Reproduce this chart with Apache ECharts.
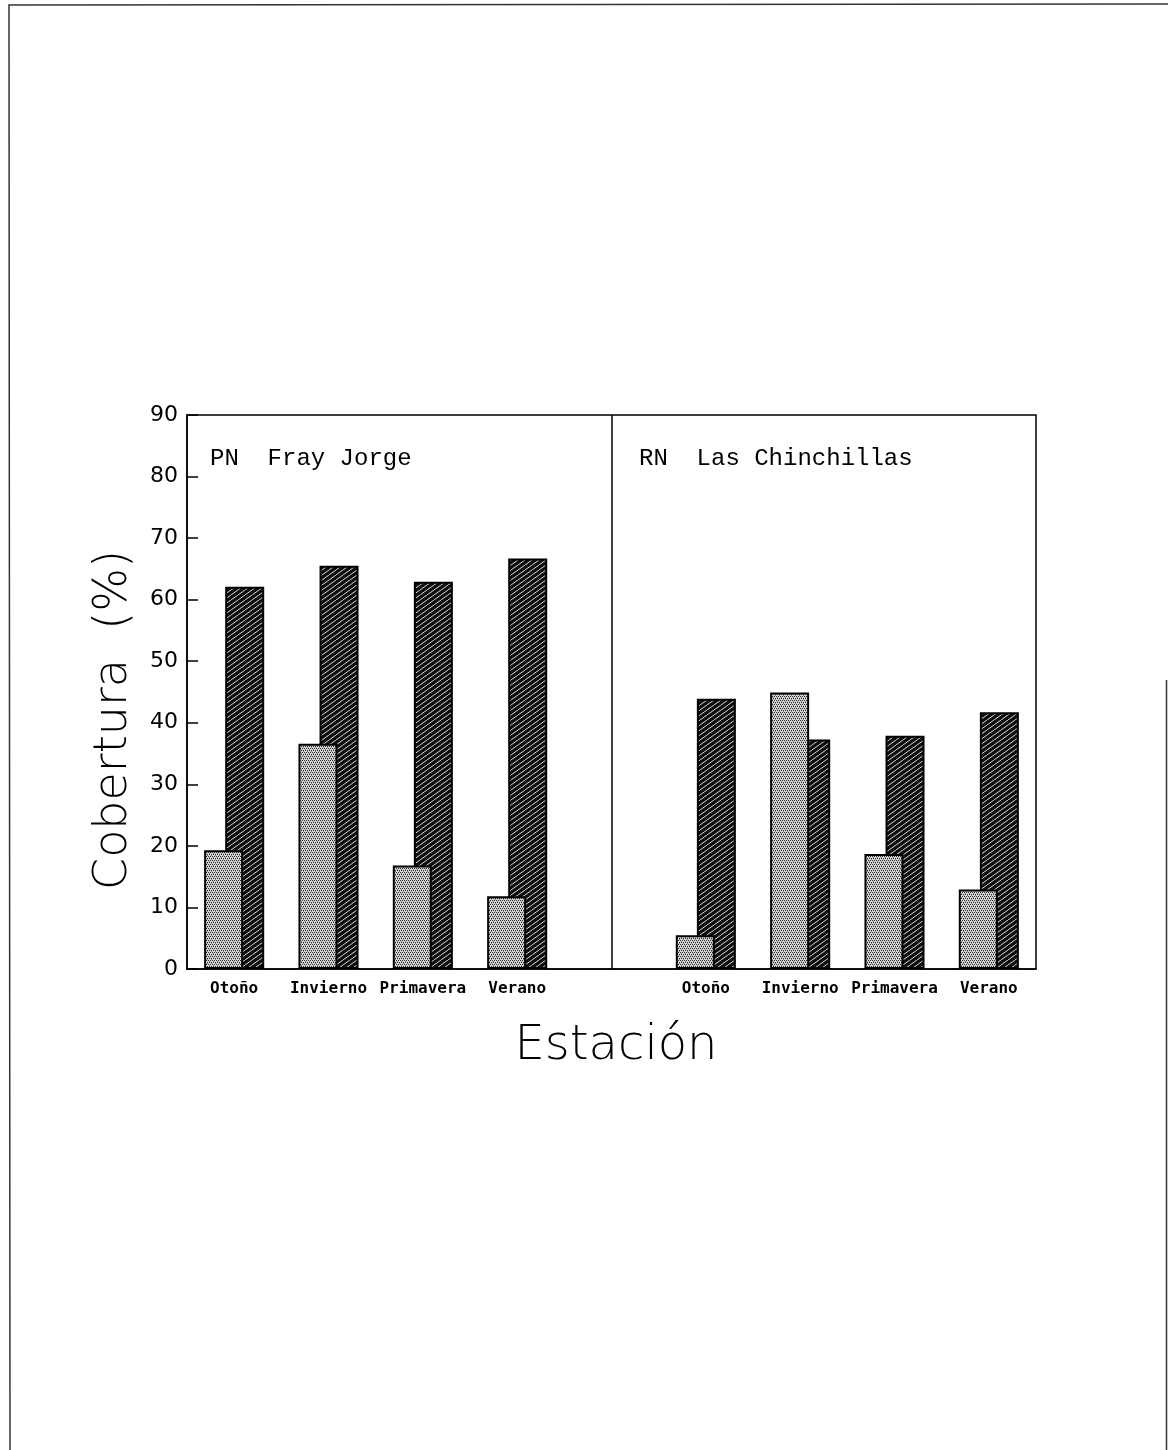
<!DOCTYPE html>
<html><head><meta charset="utf-8">
<script src="https://cdn.jsdelivr.net/npm/echarts@6/dist/echarts.min.js"></script>
<style>html,body{margin:0;padding:0;background:#fff}#c{width:1168px;height:1450px}</style>
</head><body><div id="c"></div>
<script>
// ---- data ----
const seasons = ['Otoño', 'Invierno', 'Primavera', 'Verano'];
const sites = ['PN  Fray Jorge', 'RN  Las Chinchillas'];
const yTickValues = [0, 10, 20, 30, 40, 50, 60, 70, 80, 90];
const frayDotted  = [19.3, 36.6, 16.8, 11.8];
const frayHatched = [62.1, 65.5, 62.9, 66.7];
const chinDotted  = [5.5, 44.9, 18.7, 12.9];
const chinHatched = [43.9, 37.3, 37.9, 41.7];
const yTitle = 'Cobertura  (%)';
const xTitle = 'Estación';

// ---- build ----
const axisData = seasons.map(s => 'A|' + s).concat(['gap']).concat(seasons.map(s => 'B|' + s));
const dottedData = frayDotted.concat(['-']).concat(chinDotted);
const hatchedData = frayHatched.concat(['-']).concat(chinHatched);

function dotTile() {
  const c = document.createElement('canvas'); c.width = 4; c.height = 4;
  const g = c.getContext('2d');
  g.fillStyle = '#d6d6d6'; g.fillRect(0, 0, 4, 4);
  g.fillStyle = '#2e2e2e';
  [[0,0],[2,0],[1,2],[3,2]].forEach(p => g.fillRect(p[0], p[1], 1, 1));
  g.fillStyle = '#8a8a8a';
  [[1,1],[3,3]].forEach(p => g.fillRect(p[0], p[1], 1, 1));
  return c;
}
function hatchTile() {
  const W = 7, H = 5;
  const c = document.createElement('canvas'); c.width = W; c.height = H;
  const g = c.getContext('2d');
  g.fillStyle = '#0e0e0e'; g.fillRect(0, 0, W, H);
  g.strokeStyle = '#e4e4e4'; g.lineWidth = 0.95;
  for (let k = -1; k <= 1; k++) {
    g.beginPath(); g.moveTo(k * W, H); g.lineTo((k + 1) * W, 0); g.stroke();
  }
  return c;
}

const chart = echarts.init(document.getElementById('c'), null, {renderer: 'canvas'});
chart.setOption({
  animation: false,
  backgroundColor: '#fff',
  grid: {left: 187, right: 132, top: 415, bottom: 481, show: true, borderColor: '#000', borderWidth: 1.5, backgroundColor: 'transparent'},
  xAxis: {
    type: 'category', data: axisData, z: 10,
    axisLine: {lineStyle: {color: '#000', width: 1.5}},
    axisTick: {inside: true, alignWithLabel: true, length: 8, lineStyle: {color: '#000', width: 1.5},
      interval: (i) => i !== 4},
    axisLabel: {interval: 0, margin: 12, color: '#000', fontSize: 16, fontWeight: 'bold',
      fontFamily: "'DejaVu Sans Mono', monospace", formatter: v => (v.split('|')[1] || '')},
    splitLine: {show: false}
  },
  yAxis: {
    type: 'value', min: yTickValues[0], max: yTickValues[yTickValues.length - 1], interval: yTickValues[1] - yTickValues[0],
    axisLine: {show: true, lineStyle: {color: '#000', width: 1.5}},
    axisTick: {show: true, inside: true, length: 11, lineStyle: {color: '#000', width: 1.5}},
    axisLabel: {color: '#000', fontSize: 22, margin: 9, fontFamily: "'DejaVu Sans', sans-serif"},
    splitLine: {show: false}
  },
  series: [
    {type: 'bar', data: dottedData, barWidth: 39, barGap: '-46%', z: 3,
      itemStyle: {color: {image: dotTile(), repeat: 'repeat'}, borderColor: '#000', borderWidth: 2}},
    {type: 'bar', data: hatchedData, barWidth: 39, z: 2,
      itemStyle: {color: {image: hatchTile(), repeat: 'repeat'}, borderColor: '#000', borderWidth: 2}},
    {type: 'line', data: [], z: 4,
      markLine: {silent: true, symbol: 'none', label: {show: false},
        lineStyle: {color: '#000', width: 1.5, type: 'solid'}, data: [{xAxis: 4}]}}
  ],
  graphic: [
    {type: 'text', left: 210, top: 447, style: {text: sites[0], font: "24px 'Liberation Mono', monospace", fill: '#000'}},
    {type: 'text', left: 639, top: 447, style: {text: sites[1], font: "24px 'Liberation Mono', monospace", fill: '#000'}},
    {type: 'text', x: 114, y: 720, rotation: Math.PI / 2,
      style: {text: yTitle, font: "200 46px 'DejaVu Sans', sans-serif", fill: '#000', align: 'center', verticalAlign: 'middle'}},
    {type: 'text', x: 616, y: 1047,
      style: {text: xTitle, font: "200 48px 'DejaVu Sans', sans-serif", fill: '#000', align: 'center', verticalAlign: 'middle'}},
    {type: 'polyline', shape: {points: [[10, 1450], [9, 5], [1168, 4]]}, style: {stroke: '#333', lineWidth: 1.5, fill: null}},
    {type: 'line', shape: {x1: 1166.5, y1: 680, x2: 1166.5, y2: 1450}, style: {stroke: '#333', lineWidth: 1.5}}
  ]
});
</script></body></html>
